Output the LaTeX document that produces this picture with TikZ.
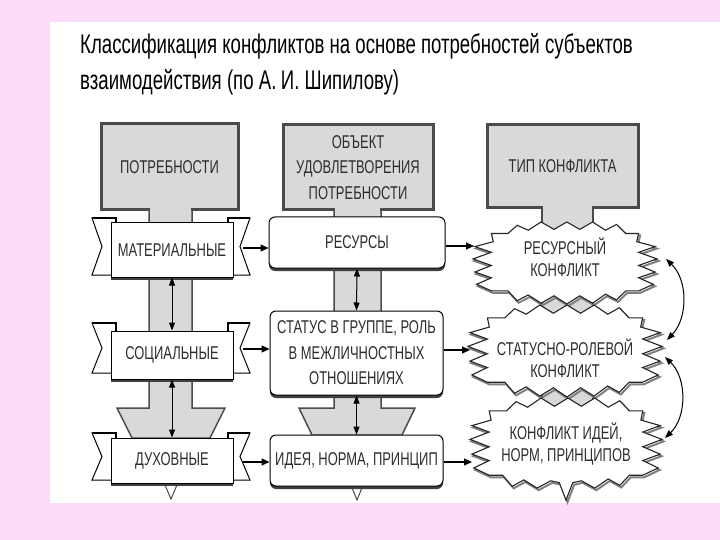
\documentclass[tikz,border=0pt]{standalone}
\usepackage{fontspec}
\setmainfont{Liberation Sans}
\newfontfamily\titlefont[FakeStretch=0.69]{Liberation Sans}
\newfontfamily\boxfont[FakeStretch=0.70]{Liberation Sans}
\usetikzlibrary{arrows.meta,calc,shadows}

\definecolor{pinkbg}{RGB}{252,221,248}
\definecolor{hdrfill}{RGB}{217,217,217}
\definecolor{hdrline}{RGB}{75,75,75}
\definecolor{txtgray}{RGB}{45,45,45}

\tikzset{
  hdr/.style={draw=hdrline, line width=3pt, fill=hdrfill, inner sep=0pt, align=center,
    text=txtgray, font=\boxfont\fontsize{18.5}{25.5}\selectfont},
  stemshape/.style={fill=hdrfill, draw=hdrline, line width=1.5pt},
  sqbox/.style={draw=black, line width=1pt, fill=white, inner sep=0pt, align=center,
    text=txtgray, font=\boxfont\fontsize{18.5}{25.5}\selectfont,
    drop shadow={shadow xshift=0pt, shadow yshift=-3pt, fill=black!75, opacity=1}},
  rdbox/.style={sqbox, rounded corners=6pt},
  tailshape/.style={draw=black, line width=1pt, fill=white},
  tailtop/.style={draw=black, line width=2.6pt},
  burstfill/.style={fill=white},
  burstline/.style={draw=black!85, line width=1.1pt, line join=miter},
  burstshadow/.style={draw=black!50, line width=2pt},
  bursttext/.style={inner sep=0pt, align=center, text=txtgray,
    font=\boxfont\fontsize{18.5}{22}\selectfont},
  arr/.style={draw=black, line width=1.1pt, -{Triangle[length=8pt,width=7pt]}},
  darr/.style={draw=black, line width=1pt, {Triangle[length=8pt,width=6pt]}-{Triangle[length=8pt,width=6pt]}},
  tri/.style={draw=hdrline, line width=1pt, fill=white},
  burstA/.pic={\path[pic actions] (-0.74,-0.72) -- (-0.62,-0.72) -- (-0.52,-0.92) -- (-0.40,-0.80) -- (-0.26,-1.0) -- (-0.12,-0.82) -- (0.02,-1.0) -- (0.16,-0.82) -- (0.30,-1.0) -- (0.44,-0.80) -- (0.56,-0.94) -- (0.66,-0.72) -- (0.80,-0.72) -- (0.78,-0.52) -- (0.98,-0.40) -- (0.80,-0.26) -- (1.0,-0.10) -- (0.80,0.06) -- (0.98,0.22) -- (0.80,0.36) -- (0.96,0.52) -- (0.80,0.68) -- (0.66,0.68) -- (0.56,0.90) -- (0.44,0.76) -- (0.30,0.98) -- (0.16,0.80) -- (0.02,1.0) -- (-0.12,0.80) -- (-0.26,0.98) -- (-0.40,0.78) -- (-0.52,0.92) -- (-0.62,0.68) -- (-0.80,0.68) -- (-0.96,0.52) -- (-0.80,0.36) -- (-0.98,0.22) -- (-0.80,0.06) -- (-1.0,-0.10) -- (-0.80,-0.26) -- (-0.98,-0.40) -- (-0.78,-0.52) -- (-0.80,-0.72) -- cycle;},
  burstB/.pic={\path[pic actions] (-0.74,-0.72) -- (-0.62,-0.72) -- (-0.52,-0.92) -- (-0.40,-0.80) -- (-0.26,-1.0) -- (-0.12,-0.82) -- (0.02,-1.0) -- (0.16,-0.82) -- (0.30,-1.0) -- (0.44,-0.80) -- (0.56,-0.94) -- (0.66,-0.72) -- (0.80,-0.72) -- (0.78,-0.52) -- (0.98,-0.40) -- (0.80,-0.26) -- (1.0,-0.10) -- (0.80,0.06) -- (0.98,0.22) -- (0.80,0.36) -- (0.96,0.52) -- (0.80,0.68) -- (0.66,0.68) -- (0.56,0.90) -- (0.44,0.76) -- (0.30,0.96) -- (0.16,0.80) -- (0.07,0.84) -- (0,1.22) -- (-0.07,0.84) -- (-0.16,0.80) -- (-0.30,0.96) -- (-0.44,0.78) -- (-0.56,0.92) -- (-0.66,0.68) -- (-0.80,0.68) -- (-0.96,0.52) -- (-0.80,0.36) -- (-0.98,0.22) -- (-0.80,0.06) -- (-1.0,-0.10) -- (-0.80,-0.26) -- (-0.98,-0.40) -- (-0.78,-0.52) -- (-0.80,-0.72) -- cycle;},
}

\begin{document}
\begin{tikzpicture}[x=1pt,y=-1pt]
\useasboundingbox (0,0) rectangle (720,540);
\fill[pinkbg] (0,0) rectangle (720,540);
\fill[white] (50,22) rectangle (720,503);

% title
\node[anchor=base west, inner sep=0pt, font=\titlefont\fontsize{27}{32}\selectfont] (t1) at (80,54)
  {Классификация конфликтов на основе потребностей субъектов};
\node[anchor=base west, inner sep=0pt, font=\titlefont\fontsize{27}{32}\selectfont] (t2) at (80,90)
  {взаимодействия (по А.\,И. Шипилову)};

% stems
\filldraw[stemshape] (149,210) -- (149,408) -- (117,408) -- (132,438) -- (210,438) -- (225,408) -- (192,408) -- (192,210);
\filldraw[stemshape] (334,210) -- (334,408) -- (299,408) -- (312,435) -- (402,435) -- (415,408) -- (381,408) -- (381,210);
\filldraw[stemshape] (542,208) -- (542,440) -- (593,440) -- (593,208);

% bottom arrow-tips
\filldraw[tri] (162,478) -- (180,478) -- (171,499) -- cycle;
\filldraw[tri] (348,478) -- (366,478) -- (357,500) -- cycle;

% headers
\node[hdr, minimum width=137pt, minimum height=86pt] (h1) at (169.5,167) {ПОТРЕБНОСТИ};
\node[hdr, minimum width=150pt, minimum height=85pt] (h2) at (358,167.5) {ОБЪЕКТ\\УДОВЛЕТВОРЕНИЯ\\ПОТРЕБНОСТИ};
\node[hdr, minimum width=151pt, minimum height=83pt] (h3) at (562.5,166.5) {ТИП КОНФЛИКТА};
\fill[hdrfill] (150,206) rectangle (191,214);
\fill[hdrfill] (335,206) rectangle (380,214);
\fill[hdrfill] (543,204) rectangle (592,212);

% ribbon tails, column 1
\foreach \T/\B/\M in {218/275/246.5, 323/373/348, 433/480/456.5}{
  \filldraw[tailshape] (116,\T) -- (92,\T) -- (102,\M) -- (92,\B) -- (116,\B) -- cycle;
  \draw[tailtop] (92,\T) -- (116,\T) -- (116,\T+9);
  \filldraw[tailshape] (228,\T) -- (250,\T) -- (240,\M) -- (250,\B) -- (228,\B) -- cycle;
  \draw[tailtop] (228,\T+9) -- (228,\T) -- (250,\T);
}

% column 1 boxes
\node[sqbox, minimum width=122pt, minimum height=54pt] (m1) at (172,250) {МАТЕРИАЛЬНЫЕ};
\node[sqbox, minimum width=122pt, minimum height=48pt] (m2) at (172,355) {СОЦИАЛЬНЫЕ};
\node[sqbox, minimum width=122pt, minimum height=45pt] (m3) at (172,460.5) {ДУХОВНЫЕ};

% column 2 boxes
\node[rdbox, minimum width=176pt, minimum height=51pt] (r1) at (357,242.5) {РЕСУРСЫ};
\node[rdbox, minimum width=173pt, minimum height=84pt] (r2) at (356.5,353) {СТАТУС В ГРУППЕ, РОЛЬ\\В МЕЖЛИЧНОСТНЫХ\\ОТНОШЕНИЯХ};
\node[rdbox, minimum width=173pt, minimum height=51pt] (r3) at (356.5,460.5) {ИДЕЯ, НОРМА, ПРИНЦИП};

% bursts
\pic[burstshadow, xscale=96, yscale=46] at (567.5,446) {burstB};
\pic[burstshadow, xscale=97, yscale=46] at (566.5,353) {burstA};
\pic[burstshadow, xscale=92, yscale=41] at (566.5,265) {burstA};
\pic[burstfill, xscale=96, yscale=46] at (566,444) {burstB};
\pic[burstfill, xscale=97, yscale=46] at (565,351) {burstA};
\pic[burstfill, xscale=92, yscale=41] at (565,263) {burstA};
\pic[burstline, xscale=96, yscale=46] at (566,444) {burstB};
\pic[burstline, xscale=97, yscale=46] at (565,351) {burstA};
\pic[burstline, xscale=92, yscale=41] at (565,263) {burstA};
\node[bursttext] (b1) at (565,257.5) {РЕСУРСНЫЙ\\КОНФЛИКТ};
\node[bursttext] (b2) at (565,358) {СТАТУСНО-РОЛЕВОЙ\\КОНФЛИКТ};
\node[bursttext] (b3) at (566,443.5) {КОНФЛИКТ ИДЕЙ,\\НОРМ, ПРИНЦИПОВ};

% vertical double arrows
\draw[darr] (m1.south) -- (m2.north);
\draw[darr] (m2.south) -- (m3.north);
\draw[darr] (r1.south) -- (r2.north);
\draw[darr] (r2.south) -- (r3.north);

% horizontal arrows col1 -> col2
\coordinate (m1r) at (243,248);
\coordinate (m2r) at (243,349);
\coordinate (m3r) at (243,462);
\draw[arr] (m1r) -- (m1r -| r1.west);
\draw[arr] (m2r) -- (m2r -| r2.west);
\draw[arr] (m3r) -- (m3r -| r3.west);

% horizontal arrows col2 -> col3
\coordinate (b1w) at (474,246);
\coordinate (b2w) at (470,350);
\coordinate (b3w) at (472,462);
\draw[arr] (b1w -| r1.east) -- (b1w);
\draw[arr] (b2w -| r2.east) -- (b2w);
\draw[arr] (b3w -| r3.east) -- (b3w);

% curved arrows on the right
\coordinate (c1a) at (666,259);
\coordinate (c1b) at (667,340);
\coordinate (c2a) at (665,357);
\coordinate (c2b) at (665,438);
\draw[darr] (c1a) .. controls (688,280) and (688,318) .. (c1b);
\draw[darr] (c2a) .. controls (687,378) and (687,417) .. (c2b);
\end{tikzpicture}
\end{document}
